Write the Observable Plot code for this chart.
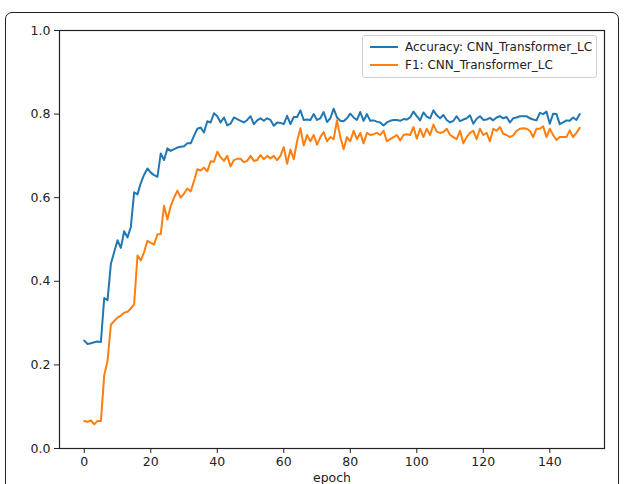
<!DOCTYPE html>
<html>
<head>
<meta charset="utf-8">
<script src="https://cdn.jsdelivr.net/npm/d3@7"></script>
<script src="https://cdn.jsdelivr.net/npm/@observablehq/plot@0.6"></script>
<style>
  html, body { margin: 0; padding: 0; background: #fff; }
  #wrap { position: relative; width: 625px; height: 484px; overflow: hidden; font-family: "DejaVu Sans", sans-serif; }
  #frame { position: absolute; left: 5px; top: 12px; width: 614px; height: 520px; border: 1.5px solid #222; border-radius: 7px; box-sizing: border-box; }
  #chart { position: absolute; left: 0; top: 0; }
  #legend { position: absolute; left: 362px; top: 35px; width: 235px; height: 43px; border: 1px solid #d0d0d0; border-radius: 3px; background: rgba(255,255,255,0.85); box-sizing: border-box; font-size: 12px; color: #222; white-space: nowrap; }
  .row { position: absolute; left: 7px; height: 16px; display: flex; align-items: center; white-space: nowrap; }
  .sw { width: 28px; height: 2px; margin-right: 7px; flex: none; }
</style>
</head>
<body>
<div id="wrap">
  <div id="frame"></div>
  <div id="chart"></div>
  <div id="legend"></div>
</div>
<script>
const seriesNames = ["Accuracy: CNN_Transformer_LC", "F1: CNN_Transformer_LC"];
const seriesColors = ["#1f77b4", "#ff7f0e"];
const xTicks = [0, 20, 40, 60, 80, 100, 120, 140];
const yTicks = [0, 0.2, 0.4, 0.6, 0.8, 1.0];

const accuracy = [
0.258,0.250,0.252,0.254,0.256,0.255,0.360,0.355,0.442,0.470,
0.498,0.480,0.520,0.505,0.530,0.613,0.608,0.635,0.655,0.670,
0.660,0.654,0.650,0.706,0.690,0.718,0.712,0.716,0.720,0.722,
0.723,0.730,0.730,0.748,0.765,0.768,0.756,0.783,0.780,0.802,
0.795,0.780,0.792,0.773,0.777,0.792,0.788,0.784,0.780,0.786,
0.795,0.776,0.785,0.790,0.784,0.790,0.786,0.772,0.780,0.779,
0.776,0.796,0.776,0.793,0.793,0.809,0.786,0.787,0.786,0.800,
0.786,0.790,0.805,0.781,0.790,0.813,0.792,0.784,0.783,0.790,
0.801,0.792,0.786,0.805,0.784,0.800,0.784,0.785,0.782,0.780,
0.773,0.780,0.784,0.786,0.786,0.784,0.788,0.787,0.792,0.806,
0.795,0.785,0.804,0.794,0.790,0.809,0.797,0.790,0.798,0.786,
0.780,0.784,0.795,0.783,0.787,0.790,0.797,0.777,0.789,0.795,
0.786,0.787,0.791,0.785,0.792,0.795,0.790,0.793,0.780,0.790,
0.792,0.795,0.795,0.795,0.790,0.787,0.785,0.803,0.800,0.806,
0.777,0.801,0.800,0.776,0.780,0.785,0.784,0.792,0.786,0.800
];
const f1 = [
0.066,0.064,0.067,0.058,0.066,0.066,0.175,0.210,0.296,0.305,
0.313,0.318,0.325,0.327,0.335,0.345,0.462,0.450,0.470,0.497,
0.492,0.488,0.512,0.513,0.581,0.548,0.580,0.600,0.617,0.600,
0.610,0.622,0.615,0.640,0.668,0.665,0.672,0.663,0.687,0.686,
0.710,0.697,0.688,0.700,0.675,0.690,0.693,0.693,0.685,0.688,
0.700,0.688,0.690,0.702,0.692,0.700,0.694,0.700,0.690,0.700,
0.721,0.681,0.715,0.692,0.735,0.766,0.725,0.750,0.735,0.750,
0.727,0.745,0.757,0.735,0.745,0.740,0.785,0.745,0.716,0.745,
0.735,0.760,0.740,0.755,0.730,0.755,0.750,0.752,0.755,0.750,
0.760,0.735,0.740,0.745,0.750,0.737,0.750,0.752,0.750,0.769,
0.741,0.765,0.745,0.765,0.750,0.775,0.758,0.755,0.757,0.765,
0.750,0.745,0.740,0.760,0.730,0.745,0.755,0.760,0.740,0.765,
0.750,0.755,0.735,0.765,0.760,0.769,0.753,0.750,0.745,0.749,
0.760,0.765,0.766,0.765,0.760,0.745,0.765,0.765,0.771,0.745,
0.765,0.750,0.738,0.745,0.745,0.745,0.761,0.745,0.755,0.767
];

const data = [];
accuracy.forEach((v, i) => data.push({epoch: i, value: v, series: seriesNames[0]}));
f1.forEach((v, i) => data.push({epoch: i, value: v, series: seriesNames[1]}));

const chart = Plot.plot({
  width: 625,
  height: 484,
  marginLeft: 59,
  marginRight: 21,
  marginTop: 30,
  marginBottom: 36,
  style: { fontFamily: "DejaVu Sans, sans-serif", fontSize: "12.5px", color: "#222", background: "transparent", overflow: "visible" },
  x: { domain: [-7.45, 156.45] },
  y: { domain: [0, 1] },
  color: { domain: seriesNames, range: seriesColors },
  marks: [
    Plot.lineY(data, { x: "epoch", y: "value", stroke: "series", strokeWidth: 2, z: "series" }),
    Plot.frame({ stroke: "#222", strokeWidth: 1.2 }),
    Plot.axisX({ ticks: xTicks, tickSize: 5, tickPadding: 4, label: "epoch", labelAnchor: "center", labelArrow: "none", labelOffset: 33, fontSize: 12.5 }),
    Plot.axisY({ ticks: yTicks, tickFormat: d3.format(".1f"), tickSize: 5, tickPadding: 4, label: null, fontSize: 12.5 })
  ]
});
document.getElementById("chart").appendChild(chart);

const legend = document.getElementById("legend");
seriesNames.forEach((name, i) => {
  const row = document.createElement("div");
  row.className = "row";
  row.style.top = (3 + i * 18) + "px";
  const sw = document.createElement("span");
  sw.className = "sw";
  sw.style.background = seriesColors[i];
  const t = document.createElement("span");
  t.textContent = name;
  row.appendChild(sw);
  row.appendChild(t);
  legend.appendChild(row);
});
</script>
</body>
</html>
